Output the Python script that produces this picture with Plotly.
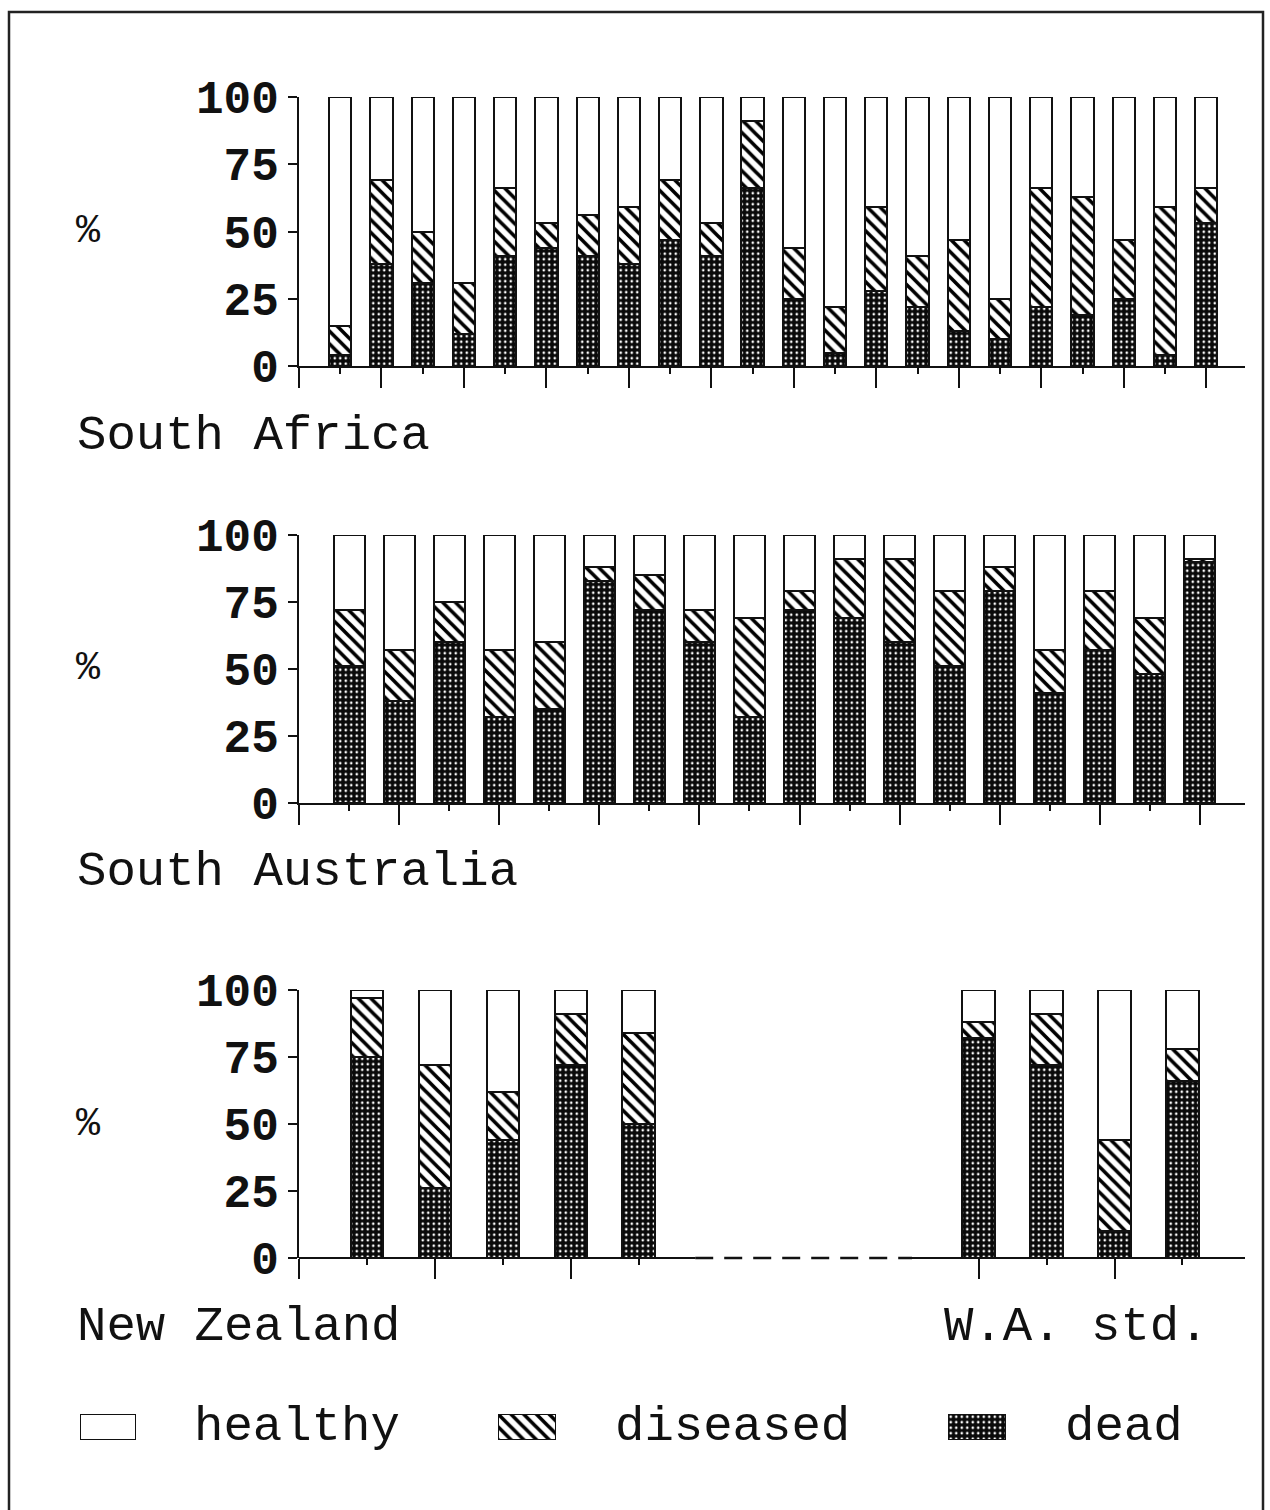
import plotly.graph_objects as go

# ---- data: percentage of plants per site (dead, diseased; healthy = remainder) ----
sa_sites = [1, 2, 3, 4, 5, 6, 7, 8, 9, 10, 11, 12, 13, 14, 15, 16, 17, 18, 19, 20, 21, 22]
sa_dead = [4, 38, 31, 12, 41, 44, 41, 38, 47, 41, 66, 25, 5, 28, 22, 13, 10, 22, 19, 25, 4, 53]
sa_diseased = [11, 31, 19, 19, 25, 9, 15, 21, 22, 12, 25, 19, 17, 31, 19, 34, 15, 44, 44, 22, 55, 13]

aus_sites = [1, 2, 3, 4, 5, 6, 7, 8, 9, 10, 11, 12, 13, 14, 15, 16, 17, 18]
aus_dead = [51, 38, 60, 32, 35, 83, 72, 60, 32, 72, 69, 60, 51, 79, 41, 57, 48, 90]
aus_diseased = [21, 19, 15, 25, 25, 5, 13, 12, 37, 7, 22, 31, 28, 9, 16, 22, 21, 1]

nz_sites = [1, 2, 3, 4, 5]
nz_dead = [75, 26, 44, 72, 50]
nz_diseased = [22, 46, 18, 19, 34]

wa_sites = [10, 11, 12, 13]
wa_dead = [82, 72, 10, 66]
wa_diseased = [6, 19, 34, 12]

y_ticks = [0, 25, 50, 75, 100]
legend_names = ["healthy", "diseased", "dead"]

FONT = "Liberation Mono"
INK = "#111111"
W, H = 1270, 1510


def px_y(p):
    return 1 - p / H


def px_x(p):
    return p / W


# fill styles for the three categories
STYLE = {
    "dead": dict(color="black",
                 pattern=dict(shape=".", fgcolor="white", bgcolor="#0a0a0a",
                              size=5.5, solidity=0.18, fillmode="replace")),
    "diseased": dict(color="white",
                     pattern=dict(shape="\\", fgcolor="black", bgcolor="white",
                                  size=9, solidity=0.4, fillmode="replace")),
    "healthy": dict(color="white"),
}


def healthy_of(dead, dis):
    return [100 - a - b for a, b in zip(dead, dis)]


fig = go.Figure()


def add_stack(x, dead, dis, xa, ya, width):
    segs = [("dead", dead), ("diseased", dis), ("healthy", healthy_of(dead, dis))]
    for name, vals in segs:
        fig.add_trace(go.Bar(
            x=x, y=vals, name=name, width=width, xaxis=xa, yaxis=ya,
            marker=dict(**STYLE[name], line=dict(color=INK, width=2)),
            showlegend=False, cliponaxis=False, hoverinfo="skip"))


add_stack(sa_sites, sa_dead, sa_diseased, "x", "y", 0.54)
add_stack(aus_sites, aus_dead, aus_diseased, "x2", "y2", 0.62)
add_stack(nz_sites, nz_dead, nz_diseased, "x3", "y3", 0.48)
add_stack(wa_sites, wa_dead, wa_diseased, "x3", "y3", 0.48)

# legend swatches, each on its own tiny axis
swatch_boxes = [(80, 136), (498, 556), (948, 1006)]
for i, name in enumerate(legend_names):
    k = 4 + i
    fig.add_trace(go.Bar(
        x=[0], y=[1], width=1, xaxis=f"x{k}", yaxis=f"y{k}",
        marker=dict(**STYLE[name], line=dict(color=INK, width=2)),
        showlegend=False, cliponaxis=False, hoverinfo="skip"))

x_dom = [px_x(299), px_x(1245)]
panels = [
    # (suffix, top px, bottom px, x range, major ticks, minor ticks)
    ("", 97, 366, [0, 22.94], list(range(0, 23, 2)), list(range(1, 23, 2))),
    ("2", 535, 803, [0, 18.9], list(range(0, 19, 2)), list(range(1, 19, 2))),
    ("3", 990, 1258, [0, 13.92], [0, 2, 4, 10, 12], [1, 3, 5, 11, 13]),
]

layout = dict(
    width=W, height=H, autosize=False,
    margin=dict(l=0, r=0, t=0, b=0, pad=0, autoexpand=False),
    paper_bgcolor="white", plot_bgcolor="rgba(0,0,0,0)",
    barmode="stack", bargap=0,
    font=dict(family=FONT, color=INK),
    showlegend=False,
)

for suf, top, bot, xr, major, minor in panels:
    anchor_y = "y" + suf
    anchor_x = "x" + suf
    layout["xaxis" + suf] = dict(
        domain=x_dom, anchor=anchor_y, range=xr,
        showline=(suf != "3"), linecolor=INK, linewidth=2,
        showgrid=False, zeroline=False,
        tickmode="array", tickvals=major, ticktext=["" for _ in major],
        ticks="outside", ticklen=20, tickwidth=2, tickcolor=INK,
        minor=dict(tickmode="array", tickvals=minor, ticks="outside",
                   ticklen=6, tickwidth=2, tickcolor=INK, showgrid=False),
        fixedrange=True,
    )
    layout["yaxis" + suf] = dict(
        domain=[px_y(bot), px_y(top)], anchor=anchor_x, range=[0, 100],
        showline=True, linecolor=INK, linewidth=2,
        showgrid=False, zeroline=False,
        tickmode="array", tickvals=y_ticks,
        ticks="outside", ticklen=9, tickwidth=2, tickcolor=INK,
        tickfont=dict(family=FONT, size=46, color=INK, weight="bold"),
        fixedrange=True,
    )

for i, (x0, x1) in enumerate(swatch_boxes):
    k = 4 + i
    layout[f"xaxis{k}"] = dict(domain=[px_x(x0), px_x(x1)], anchor=f"y{k}",
                               range=[-0.5, 0.5], visible=False, fixedrange=True)
    layout[f"yaxis{k}"] = dict(domain=[px_y(1440), px_y(1414)], anchor=f"x{k}",
                               range=[0, 1], visible=False, fixedrange=True)

fig.update_layout(**layout)

# panel 3 baseline: solid, dashed gap between the two groups, solid again
base = dict(xref="x3", yref="y3 domain", y0=0, y1=0, layer="above")
fig.add_shape(type="line", x0=0, x1=5.83, line=dict(color=INK, width=2), **base)
fig.add_shape(type="line", x0=5.83, x1=9.02,
              line=dict(color=INK, width=2.5, dash="18px,11px"), **base)
fig.add_shape(type="line", x0=9.02, x1=13.92, line=dict(color=INK, width=2), **base)

# outer frame (open at the bottom edge of the page)
fig.add_shape(type="rect", xref="paper", yref="paper",
              x0=px_x(9), x1=px_x(1263), y0=-0.05, y1=px_y(12),
              line=dict(color="#222222", width=2.5), fillcolor="rgba(0,0,0,0)")

label_font = dict(family=FONT, size=49, color=INK)
texts = [
    ("South Africa", 75, 436),
    ("South Australia", 75, 872),
    ("New Zealand", 75, 1327),
    ("W.A. std.", 942, 1327),
    ("healthy", 192, 1427),
    ("diseased", 613, 1427),
    ("dead", 1063, 1427),
]
for t, x, y in texts:
    fig.add_annotation(text=t, xref="paper", yref="paper", x=px_x(x), y=px_y(y),
                       xanchor="left", yanchor="middle", showarrow=False,
                       font=label_font)

# "%" axis labels beside each panel
for suf in ["", "2", "3"]:
    fig.add_annotation(text="%", xref="paper", yref="y" + suf, x=px_x(88), y=50,
                       xanchor="center", yanchor="middle", showarrow=False,
                       font=dict(family=FONT, size=40, color=INK))

fig.write_html("out.html")
